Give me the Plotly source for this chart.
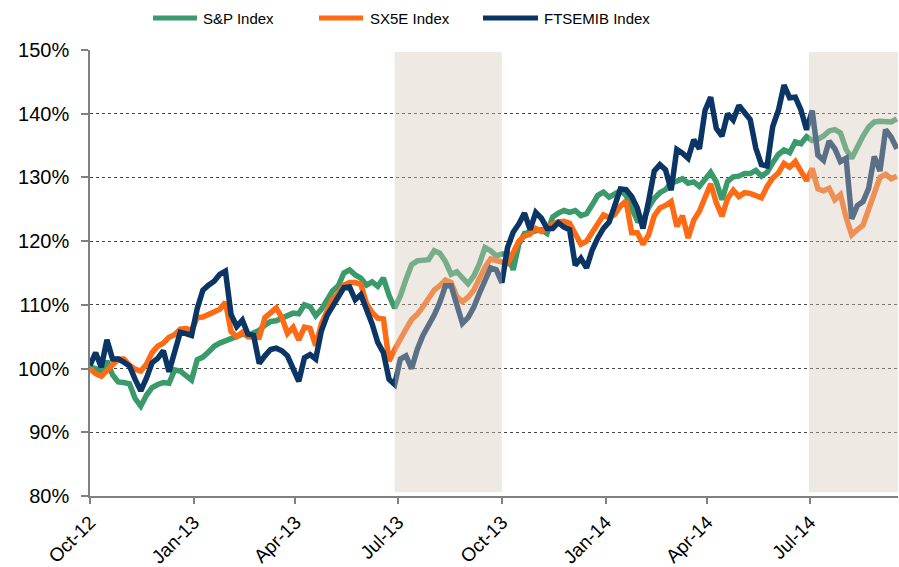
import pandas as pd
import plotly.graph_objects as go

# ---- data (percent of start level), sampled every 5 calendar days from 1 Oct 2012 ----
start_date = "2012-10-01"
n_points = 144
dates = pd.date_range(start_date, periods=n_points, freq="5D")

sp_index = [
    100.2, 100, 99.4, 101.2, 99, 97.9, 97.8, 97.6, 95.3, 94.1,
    95.8, 97, 97.5, 97.8, 97.7, 99.8, 99.6, 99, 98.2, 101.4,
    101.8, 102.6, 103.5, 104, 104.3, 104.7, 105, 105.4, 105.2, 105.5,
    106, 106.8, 107.4, 107.5, 107.9, 108.2, 108.7, 108.6, 110, 109.7,
    108.3, 109.3, 110.9, 112.2, 113, 115, 115.5, 114.7, 114.2, 113.1,
    113.6, 112.9, 114.2, 111.5, 109.5, 111.4, 114, 116.3, 116.9, 116.9,
    117.1, 118.5, 118.1, 116.8, 114.8, 115.2, 114.3, 113.3, 114.5, 116.4,
    119, 118.5, 117.7, 118, 118, 115.5, 119.5, 121.2, 121.4, 121.7,
    121.8, 121.2, 123.8, 124.4, 124.8, 124.5, 124.8, 124, 124.3, 125.7,
    127.2, 127.7, 126.9, 127.4, 127.9, 127.2, 125, 123.2, 123.1, 125.3,
    126.7, 127.6, 128.1, 129.1, 129.4, 129.8, 129.1, 129.3, 128.6, 129.8,
    130.8, 129.3, 126.5, 129.4, 130.1, 130.2, 130.6, 130.6, 131.1, 130.2,
    130.8, 132.3, 133.6, 134.3, 133.9, 135.6, 135.3, 136.4, 135.8, 136,
    136.5, 137.3, 137.5, 137, 134.4, 133, 134.8, 136.5, 137.9, 138.7,
    138.8, 138.8, 138.7, 139.2,
]

sx5e_index = [
    100, 99.2, 98.8, 99.8, 100.8, 101.5, 101.5, 100.5, 99.9, 99.6,
    100.7, 102.5, 103.5, 104, 104.9, 105.3, 106.2, 106.3, 106, 108,
    108.1, 108.5, 108.9, 109.3, 110.4, 105.8, 105, 105.7, 105, 104.9,
    104.9, 108, 108.8, 109.5, 108, 105.5, 106.5, 104.5, 106.5, 106.3,
    103.6, 107, 109, 110.9, 111.8, 113.1, 113.5, 113.5, 113.2, 110.2,
    108.8, 107.9, 107.8, 101.2, 103, 104.4, 106.2, 107.7, 108.5, 109.7,
    111.2, 112.3, 113, 113.9, 113.5, 111.3, 110.5, 111.2, 112.3, 114.3,
    115.9, 117.2, 117, 116.8, 116.5, 118.2, 120, 120.8, 121.1, 122,
    121.5, 122, 122.7, 123, 123.1, 122.8, 121, 119.5, 120, 121.5,
    122.8, 124.1, 123.7, 124.2, 125.5, 126.3, 121.3, 121.3, 119.5, 121,
    124, 125.2, 125.6, 126.2, 122.3, 124, 120.5, 123.3, 124.7, 127,
    129, 126, 123.9, 126.7, 128, 127, 127.6, 127.5, 127.2, 126.8,
    128.6, 129.9, 130.7, 132.2, 131.6, 132.5, 131, 129.5, 131.4, 128.2,
    127.9, 128.3, 126.5, 127.3, 123.7, 121, 121.8, 122.5, 125, 127.8,
    130, 130.5, 129.8, 130.2,
]

ftsemib_index = [
    100.5, 102.5, 100.2, 104.5, 101.5, 101.5, 101, 100.4, 98.3, 96.5,
    98.5, 100.9, 101.6, 102.8, 99.5, 102.5, 105.7, 105.5, 105.2, 109.4,
    112.3, 113.1, 113.7, 114.8, 115.3, 108.5, 106.6, 107.6, 105.4, 105.2,
    100.8, 102, 103, 103.2, 102.8, 102, 100, 98, 101.7, 102.2,
    101.5, 105.9, 108.3, 109.8, 111.5, 112.7, 112.8, 110.8, 111.6, 109.5,
    107, 104.1, 102.5, 98.3, 97.5, 101.5, 102, 100, 103, 105.2,
    106.7, 108.4, 110.4, 113, 113, 110, 107.1, 108, 109.6, 111.8,
    114, 115.8, 115.5, 113.5, 119, 121.4, 122.7, 124.4, 121.8, 124.5,
    123.6, 122, 122, 122.9, 122.2, 121.8, 116.2, 117.3, 115.8, 118.6,
    120.5, 122, 123, 125.7, 128.2, 128.1, 127, 125.2, 122, 126.3,
    131, 132, 131.2, 128, 134.4, 133.8, 133, 135.9, 134.5, 140.5,
    142.6, 137.7, 136.5, 140, 139, 141.3, 140.1, 139.1, 134.6, 132,
    131.8, 138, 140.5, 144.5, 142.5, 142.6, 140.6, 137.5, 140.5, 133.5,
    132.7, 135.7, 134.5, 132.5, 133, 123.5, 125.6, 126.2, 128.3, 133.3,
    131, 137.5, 136.3, 134.5,
]

series_names = ["S&P Index", "SX5E Index", "FTSEMIB Index"]
series_values = [sp_index, sx5e_index, ftsemib_index]
series_colors = ["#3A9A6B", "#FF6A14", "#0B3564"]

tick_dates = ["2012-10-01", "2013-01-01", "2013-04-01", "2013-07-01",
              "2013-10-01", "2014-01-01", "2014-04-01", "2014-07-01"]
tick_labels = ["Oct-12", "Jan-13", "Apr-13", "Jul-13",
               "Oct-13", "Jan-14", "Apr-14", "Jul-14"]
y_ticks = [80, 90, 100, 110, 120, 130, 140, 150]
y_labels = ["80%", "90%", "100%", "110%", "120%", "130%", "140%", "150%"]

shade_periods = [("2013-06-28", "2013-10-01"), ("2014-06-30", "2014-09-17")]

FONT = "Liberation Sans, Arial, sans-serif"

fig = go.Figure()
for name, vals, col in zip(series_names, series_values, series_colors):
    fig.add_trace(go.Scatter(x=dates, y=vals, name=name, mode="lines",
                             line=dict(color=col, width=5.5), showlegend=False))

for x0, x1 in shade_periods:
    fig.add_shape(type="rect", xref="x", yref="y", x0=x0, x1=x1, y0=80.6, y1=149.7,
                  fillcolor="rgb(212,202,186)", opacity=0.4, line_width=0, layer="above")

# legend drawn as line samples + text above the plot (paper coordinates)
legend_line_x = [(0.078, 0.1324), (0.2834, 0.3379), (0.4864, 0.5545)]
legend_text_x = [0.1374, 0.3440, 0.5594]
legend_y = 1.0717
for name, col, (lx0, lx1), tx in zip(series_names, series_colors, legend_line_x, legend_text_x):
    fig.add_shape(type="line", xref="paper", yref="paper", x0=lx0, x1=lx1,
                  y0=legend_y, y1=legend_y, line=dict(color=col, width=5))
    fig.add_annotation(xref="paper", yref="paper", x=tx, y=legend_y, text=name,
                       showarrow=False, xanchor="left", yanchor="middle",
                       font=dict(size=15, family=FONT, color="#000000"))

fig.update_layout(
    width=899, height=567,
    margin=dict(l=90, r=1, t=50, b=71, autoexpand=False),
    paper_bgcolor="white", plot_bgcolor="white",
    font=dict(family=FONT, color="#000000"),
    showlegend=False,
)

fig.update_xaxes(
    range=["2012-10-01", "2014-09-17"],
    tickvals=tick_dates, ticktext=tick_labels, tickangle=-45,
    tickfont=dict(size=19, family=FONT),
    showgrid=False, showline=True, linecolor="#808080", linewidth=1.5,
    ticks="outside", ticklen=6, tickcolor="#808080", tickwidth=1.5,
    zeroline=False, automargin=False,
)
fig.update_yaxes(
    range=[80, 150], tickvals=y_ticks, ticktext=y_labels,
    tickfont=dict(size=20, family=FONT),
    showgrid=True, gridcolor="#444444", griddash="dot", gridwidth=1,
    showline=True, linecolor="#808080", linewidth=1.5,
    ticks="outside", ticklen=7, tickcolor="#808080", tickwidth=1.5,
    ticklabelstandoff=8,
    zeroline=False, automargin=False,
)

fig.write_html("out.html", config={"displayModeBar": False},
               post_script="document.body.style.margin='0';document.body.style.padding='0';")
